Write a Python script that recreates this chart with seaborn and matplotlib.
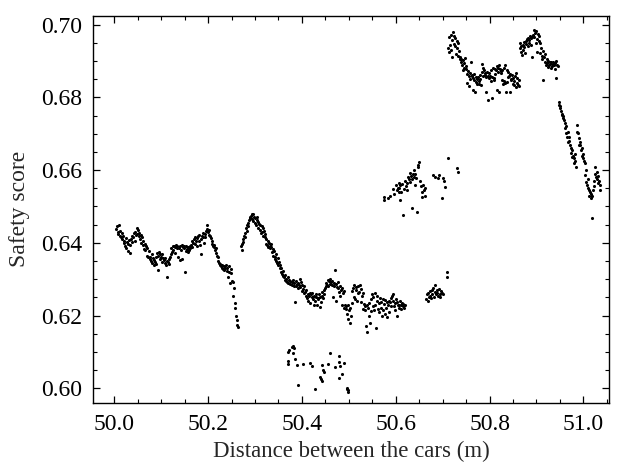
import numpy as np
import pandas as pd
import matplotlib
matplotlib.use('Agg')
import matplotlib.pyplot as plt
import seaborn as sns
from matplotlib.ticker import MultipleLocator

# y values are stored as safety score * 10000, x as (distance - 50) * 1000

# dense run, 50.004 -> 50.264
run_a_y = [
    6438, 6445, 6430, 6425, 6450, 6420, 6432, 6415, 6428, 6410,
    6418, 6400, 6405, 6392, 6412, 6385, 6402, 6398, 6378, 6408,
    6395, 6372, 6410, 6402, 6420, 6415, 6428, 6405, 6430, 6422,
    6440, 6425, 6435, 6418, 6428, 6410, 6422, 6400, 6415, 6395,
    6405, 6382, 6398, 6380, 6392, 6365, 6385, 6360, 6378, 6355,
    6362, 6350, 6368, 6345, 6358, 6338, 6352, 6348, 6360, 6342,
    6372, 6365, 6325, 6375, 6368, 6355, 6362, 6348, 6370, 6358,
    6352, 6345, 6358, 6340, 6350, 6305, 6348, 6355, 6342, 6360,
    6368, 6385, 6375, 6390, 6380, 6392, 6372, 6388, 6395, 6385,
    6390, 6360, 6385, 6352, 6392, 6380, 6395, 6356, 6388, 6392,
    6385, 6320, 6378, 6390, 6382, 6375, 6388, 6380, 6392, 6385,
    6395, 6388, 6405, 6400, 6410, 6398, 6415, 6405, 6392, 6412,
    6418, 6405, 6422, 6395, 6410, 6370, 6420, 6428, 6415, 6400,
    6425, 6415, 6432, 6438, 6448, 6430, 6422, 6435, 6418, 6412,
    6405, 6398, 6392, 6388, 6395, 6380, 6372, 6385, 6365, 6360,
    6350, 6345, 6338, 6342, 6335, 6330, 6340, 6328, 6335, 6325,
    6330, 6338, 6322, 6330, 6305, 6335, 6320, 6290, 6328, 6318,
    6295, 6255, 6292, 6275, 6234, 6220, 6200, 6188, 6175, 6168,
]

# rise and fall, 50.270 -> 50.375
run_b_y = [
    6390, 6380, 6398, 6410, 6402, 6420, 6415, 6426, 6440, 6432, 6448, 6455, 6445, 6462, 6468,
    6470, 6475, 6465, 6478, 6460, 6480, 6470, 6455, 6468, 6450, 6472, 6462, 6440, 6458,
    6452, 6435, 6448, 6428, 6445, 6430, 6440, 6420, 6432, 6415, 6425, 6398, 6410, 6395,
    6405, 6388, 6400, 6392, 6385, 6398,
    6388, 6375, 6382, 6365, 6378, 6360, 6355, 6368, 6350, 6345, 6358, 6338, 6348, 6330,
    6340, 6320, 6330, 6315, 6322, 6310, 6305, 6298, 6312, 6300, 6295, 6292, 6305, 6290,
    6298, 6288, 6295,
]

# flat band, 50.378 -> 50.619
run_c_y = [
    6292, 6285, 6298, 6280, 6290, 6236, 6295, 6282, 6288, 6275,
    6290, 6285, 6300, 6278, 6292, 6268, 6285, 6272, 6262, 6280,
    6265, 6255, 6270, 6248, 6260, 6240, 6255, 6262, 6235, 6258,
    6250, 6262, 6245, 6228, 6255, 6240, 6252, 6258, 6230, 6248,
    6245, 6260, 6224, 6250, 6238, 6255, 6265, 6248, 6270, 6258,
    6275, 6282, 6290, 6285, 6298, 6280, 6295, 6288, 6300, 6292,
    6285, 6295, 6250, 6290, 6282, 6324, 6240, 6288, 6278, 6292,
    6277, 6265, 6280, 6255, 6270, 6228, 6275, 6262, 6222, 6268,
    6230, 6218, 6225, 6205, 6228, 6190, 6215, 6180, 6222, 6198,
    6235, 6268, 6275, 6252, 6283, 6245, 6270, 6278, 6240, 6262,
    6280, 6265, 6285, 6238, 6272, 6255, 6218, 6262, 6232, 6225,
    6215, 6170, 6228, 6154, 6220, 6200, 6235, 6180, 6245, 6212,
    6258, 6225, 6250, 6215, 6262, 6228, 6167, 6255, 6240, 6218,
    6235, 6210, 6248, 6222, 6238, 6200, 6245, 6215, 6232, 6205,
    6242, 6220, 6238, 6195, 6228, 6240, 6210, 6236, 6248, 6225,
    6255, 6240, 6260, 6225, 6235, 6215, 6245, 6200, 6238, 6228,
    6230, 6222, 6240, 6218, 6228, 6235, 6225, 6232, 6220, 6228,
]

# upper plateau, 50.712 -> 50.863
run_g_y = [
    6937, 6925, 6965, 6945, 6972, 6930, 6910, 6958, 6979, 6948,
    6968, 6940, 6963, 6920, 6955, 6935, 6915, 6950, 6928, 6905,
    6912, 6898, 6905, 6890, 6902, 6875, 6895, 6880, 6908, 6885,
    6878, 6865, 6840, 6872, 6858, 6830, 6868, 6850, 6896, 6862,
    6860, 6852, 6819, 6848, 6865, 6814, 6855, 6842, 6838, 6850,
    6855, 6845, 6838, 6862, 6850, 6835, 6870, 6893, 6858, 6880,
    6874, 6862, 6868, 6855, 6814, 6870, 6792, 6860, 6866, 6853,
    6858, 6845, 6875, 6855, 6797, 6880, 6852, 6848, 6878, 6865,
    6875, 6885, 6819, 6880, 6870, 6888, 6814, 6878, 6872, 6868,
    6848, 6875, 6838, 6882, 6845, 6888, 6840, 6814, 6876, 6842,
    6869, 6855, 6860, 6814, 6865, 6850, 6848, 6862, 6838, 6853,
    6845, 6833, 6858, 6828, 6866, 6840, 6852, 6835, 6848, 6830,
]

# second peak, 50.864 -> 50.945
run_h_y = [
    6935, 6949, 6925, 6940, 6916, 6945, 6930, 6952, 6938, 6922, 6948,
    6955, 6960, 6942, 6963, 6950, 6958, 6970, 6945, 6962, 6911, 6965,
    6972, 6985, 6965, 6978, 6950, 6982, 6960, 6925, 6975, 6955, 6968,
    6950, 6922, 6935, 6915, 6905, 6928, 6847, 6910, 6898, 6920, 6890,
    6905, 6895, 6883, 6900, 6888, 6897, 6892, 6880, 6897, 6885, 6893,
    6897, 6888, 6895, 6878, 6900, 6853, 6890, 6885,
]

# final decline, 50.947 -> 51.036
run_i_y = [
    6787, 6780, 6770, 6775, 6762, 6751, 6755, 6743, 6748, 6737,
    6730, 6715, 6720, 6702, 6690, 6705, 6677, 6690, 6680, 6668,
    6660, 6647, 6655, 6635, 6640, 6619, 6633, 6645, 6625, 6608,
    6705, 6724, 6702, 6688, 6670, 6678, 6669, 6655, 6660, 6640,
    6633, 6645, 6625, 6620, 6586, 6567, 6600, 6560, 6575, 6550,
    6545, 6530, 6540, 6522, 6535, 6468, 6528, 6545, 6555, 6570,
    6590, 6608, 6580, 6595, 6575, 6564, 6585, 6570, 6558, 6545,
]

# (start, stop) of each dense run, in the same x units
run_spans = [(4, 264), (270, 375), (378, 619), (712, 863), (864, 945), (947, 1036)]

# sparse low group near 0.60
low_x = [379, 381, 383, 371, 373, 382, 371, 371, 386, 390, 392, 403, 418, 422, 428, 439,
         441, 443, 443, 446, 448, 456, 460, 471, 478, 478, 480, 482, 486, 490, 497, 498, 499, 496]
low_y = [6113, 6116, 6110, 6100, 6104, 6096, 6076, 6068, 6080, 6063, 6008, 6066, 6070, 6060, 5997, 6030,
         6025, 6020, 6063, 6050, 6045, 6068, 6096, 6058, 6090, 6027, 6072, 6060, 6040, 6069, 6002, 5995, 5990, 5998]

# group near 0.655
mid_x = [574, 575, 584, 588, 595, 597, 600, 602, 604, 606,
         606, 608, 610, 610, 612, 614, 616, 617, 620, 622,
         624, 625, 627, 628, 630, 631, 633, 634, 635, 636,
         638, 639, 640, 642, 643, 645, 647, 648, 650, 652,
         654, 655, 657, 658, 660, 662, 663, 680, 683, 690,
         693, 699, 701, 703, 705, 712, 731, 733]
mid_y = [6525, 6517, 6522, 6530, 6547, 6535, 6560, 6545, 6552, 6564,
         6539, 6550, 6517, 6558, 6540, 6562, 6476, 6548, 6570, 6555,
         6565, 6544, 6580, 6575, 6591, 6566, 6585, 6495, 6575, 6590,
         6599, 6580, 6588, 6560, 6578, 6484, 6613, 6608, 6621, 6570,
         6555, 6540, 6525, 6560, 6545, 6530, 6552, 6586, 6580, 6577,
         6586, 6522, 6577, 6570, 6553, 6632, 6605, 6594]

# small group near 0.626
side_x = [664, 666, 668, 669, 671, 672, 674, 675, 677, 678, 680, 681, 683, 684, 686, 687,
          689, 690, 692, 694, 695, 697, 699, 700, 709, 710]
side_y = [6245, 6258, 6240, 6262, 6250, 6268, 6255, 6248, 6270, 6260, 6275, 6252, 6265, 6283, 6258, 6270,
          6262, 6255, 6272, 6260, 6250, 6268, 6262, 6258, 6306, 6319]


def build_frame():
    xs, ys = [], []
    for (start, stop), run in zip(run_spans, [run_a_y, run_b_y, run_c_y, run_g_y, run_h_y, run_i_y]):
        xs.extend(np.linspace(start, stop, len(run)))
        ys.extend(run)
    for gx, gy in [(low_x, low_y), (mid_x, mid_y), (side_x, side_y)]:
        xs.extend(gx)
        ys.extend(gy)
    return pd.DataFrame({
        'distance': 50 + np.array(xs, dtype=float) / 1000,
        'score': np.array(ys, dtype=float) / 10000,
    })


sns.set_style('ticks')
plt.rcParams['font.family'] = ['Liberation Serif', 'DejaVu Serif']
plt.rcParams['axes.linewidth'] = 1.0

data = build_frame()

fig, ax = plt.subplots(figsize=(6.21, 4.71), dpi=100)
fig.subplots_adjust(left=0.150, right=0.981, bottom=0.144, top=0.967)
sns.scatterplot(x='distance', y='score', data=data, color='black', s=5, linewidth=0, ax=ax)

ax.set_xlim(49.955, 51.055)
ax.set_ylim(0.5959, 0.7025)
ax.xaxis.set_major_locator(MultipleLocator(0.2))
ax.xaxis.set_minor_locator(MultipleLocator(0.05))
ax.yaxis.set_major_locator(MultipleLocator(0.02))
ax.yaxis.set_minor_locator(MultipleLocator(0.005))
ax.xaxis.set_major_formatter(plt.FormatStrFormatter('%.1f'))
ax.yaxis.set_major_formatter(plt.FormatStrFormatter('%.2f'))
ax.tick_params(which='both', top=True, right=True, direction='in', colors='black', labelsize=17)
ax.tick_params(which='major', length=5, width=0.9)
ax.tick_params(which='minor', length=2.6, width=0.8)
ax.tick_params(axis='x', which='major', pad=8)
ax.tick_params(axis='y', which='major', pad=8)
for spine in ax.spines.values():
    spine.set_color('black')

ax.set_xlabel('Distance between the cars (m)', fontsize=16.5, labelpad=4)
ax.set_ylabel('Safety score', fontsize=17, labelpad=8)

fig.savefig('out.png', dpi=100)
